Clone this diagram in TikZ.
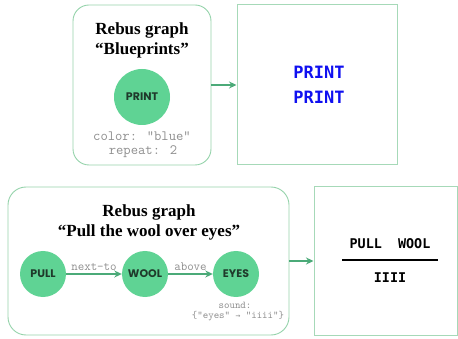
\documentclass[tikz,border=0pt]{standalone}
\usepackage{fontspec}
\setmainfont{Liberation Serif}
\newfontfamily\nodefont{Poppins}
\newfontfamily\termfont{DejaVu Sans Mono}
\newfontfamily\symfont{DejaVu Sans Mono}
\usetikzlibrary{arrows.meta}
\definecolor{circfill}{HTML}{5FD394}
\definecolor{arrowc}{HTML}{4BAA78}
\definecolor{boxline}{HTML}{95D3AB}
\definecolor{sqline}{HTML}{A6D9B8}
\definecolor{nodetxt}{HTML}{1F3A2B}
\definecolor{graytxt}{HTML}{8E8E8E}
\definecolor{printblue}{HTML}{1010F0}
\tikzset{
  rbox/.style={draw=boxline, line width=0.9pt, rounded corners=16pt, inner sep=0pt},
  sqbox/.style={draw=sqline, line width=1pt, inner sep=0pt},
  gnode/.style={circle, fill=circfill, inner sep=0pt, text=nodetxt, font=\nodefont\bfseries\fontsize{11}{12}\selectfont},
  conn/.style={draw=arrowc, line width=1.4pt, -{Stealth[length=7.5pt,width=7pt]}},
  title/.style={align=center, font=\bfseries\fontsize{17}{20}\selectfont},
  code/.style={text=graytxt, inner sep=0pt, font=\ttfamily\fontsize{14.2}{16}\selectfont},
  smallcode/.style={text=graytxt, inner sep=0pt, font=\ttfamily\fontsize{10.4}{12}\selectfont},
  elabel/.style={text=graytxt, inner sep=1pt, font=\ttfamily\fontsize{12.6}{14}\selectfont},
  answer/.style={font=\termfont\bfseries\fontsize{13.4}{16}\selectfont},
}
\begin{document}
\begin{tikzpicture}[x=1pt,y=-1pt]
\useasboundingbox (0,0) rectangle (458,339);
% top row
\node[rbox, minimum width=138pt, minimum height=160pt] (box1) at (142,85) {};
\node[sqbox, minimum width=160pt, minimum height=160pt] (box2) at (317,85) {};
\node[title] (t1) at (142,40) {Rebus graph\\“Blueprints”};
\node[gnode, minimum size=56pt] (print) at (142,97) {PRINT};
\node[code] (c1) at (142,136) {color: “blue”};
\node[code] (c2) at (143,152) {repeat: 2};
\node[align=center, text=printblue, font=\termfont\bfseries\fontsize{17}{25}\selectfont] (pp) at (319,85) {PRINT\\PRINT};
\draw[conn] (box1) -- (box2);
% bottom row
\node[rbox, rounded corners=18pt, minimum width=281pt, minimum height=148pt] (box3) at (148.5,261) {};
\node[sqbox, minimum width=143pt, minimum height=148pt] (box4) at (385.5,261) {};
\node[title] (t2) at (149,222) {Rebus graph\\“Pull the wool over eyes”};
\node[gnode, minimum size=46pt] (pull) at (43,274) {PULL};
\node[gnode, minimum size=46pt] (wool) at (145,274) {WOOL};
\node[gnode, minimum size=46pt] (eyes) at (236,274) {EYES};
\draw[conn] (pull) -- node[elabel, above, yshift=2pt] {next-to} (wool);
\draw[conn] (wool) -- node[elabel, above, yshift=2pt] {above} (eyes);
\node[smallcode] (s1) at (235,305) {sound:};
\node[smallcode] (s2) at (238,316) {\{“eyes” {\symfont\fontsize{8}{10}\selectfont→} “iiii”\}};
\draw[conn] (box3) -- (box4);
\node[answer] (pw) at (390,244) {PULL\ \ WOOL};
\coordinate (fl) at (342,260);
\coordinate (fr) at (438,260);
\draw[line width=1.4pt, black] (fl) -- (fr);
\node[answer] (iiii) at (390,278) {IIII};
\end{tikzpicture}
\end{document}
